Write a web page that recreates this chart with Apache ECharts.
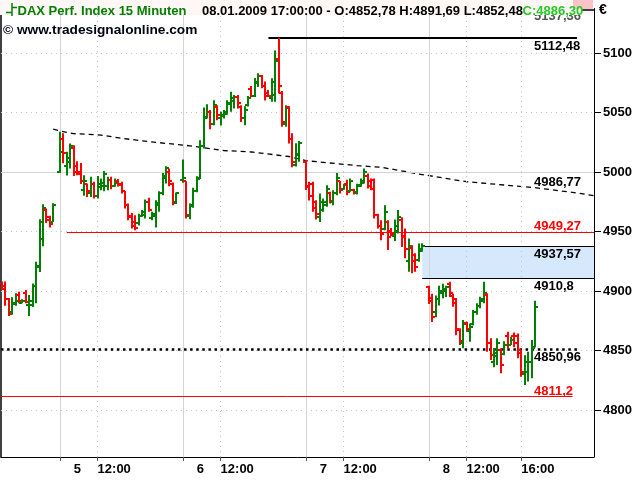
<!DOCTYPE html>
<html>
<head>
<meta charset="utf-8">
<style>html,body{margin:0;padding:0;background:#fff}#c{width:640px;height:480px}</style>
<script src="https://cdn.jsdelivr.net/npm/echarts/dist/echarts.min.js"></script>
</head>
<body>
<div id="c"></div>
<script>
// ================= DATA =================
// 15-minute bar slots: 0 = first bar of 5 Jan, 36 slots per trading day
const barSlot = [
  -17,-16,-15,-14,-13,-12,-11,-10,-9,-8,-7,-6,-5,-4,-3,-2,
  0,1,2,3,4,5,6,7,8,9,10,11,12,13,14,15,16,17,18,19,20,21,22,23,24,25,26,27,28,29,30,31,32,33,34,
  36,37,38,39,40,41,42,43,44,45,46,47,48,49,50,51,52,53,54,55,56,57,58,59,60,61,62,63,64,65,66,67,68,69,70,
  72,73,74,75,76,77,78,79,80,81,82,83,84,85,86,87,88,89,90,91,92,93,94,95,96,97,98,99,100,101,102,103,104,105,106,
  108,109,110,111,112,113,114,115,116,117,118,119,120,121,122,123,124,125,126,127,128,129,130,131,132,133,134,135,136,137,138,139
];
const barOpen = [
  4907,4904,4893,4882,4889,4897,4890,4898,4888,4888,4904,4920,4944,4968,4962,4958,
  5000,5028,5005,5008,5020,5005,5000,4985,4990,4982,4990,4980,4987,4988,4988,4993,4988,4992,4990,4984,4972,4963,4958,4957,4963,4964,4975,4961,4963,4972,4982,4995,5000,4990,4975,
  4993,4992,4963,4972,4984,4995,5022,5045,5050,5040,5055,5045,5047,5049,5057,5060,5063,5055,5045,5056,5070,5064,5075,5081,5072,5066,5062,5065,5095,5066,5040,5055,5028,5006,5014,
  5008,4988,4990,4975,4962,4968,4972,4982,4975,4982,4992,4986,4990,4984,4985,4983,4988,4991,4997,4992,4993,4964,4955,4952,4958,4950,4946,4950,4960,4946,4925,4936,4930,4926,4934,
  4903,4894,4882,4893,4898,4900,4906,4896,4893,4867,4856,4873,4866,4872,4882,4887,4892,4897,4856,4840,4845,4850,4847,4862,4855,4862,4862,4850,4830,4832,4840,4852.78
];
const barHigh = [
  4908,4908,4894,4894.7,4898,4899.4,4893,4900.8,4896.6,4906.2,4924.6,4960.3,4972.8,4969.4,4963.2,4973.7,
  5033.7,5032.6,5016.9,5024,5022.5,5009,5007.6,4997.3,4990.3,4995.9,4991.7,4996.7,4994.5,5000.9,4995.9,4995.9,4994.5,4994,4991.7,4984.1,4973.6,4965.6,4963.7,4965,4968,4976.9,4978.3,4966.5,4976.3,4983.9,4999.2,5004.9,5003,4991.2,4982.8,
  5010.5,4992.3,4973.6,4986.7,4996.5,5026.7,5054.2,5057,5052,5060.3,5056,5050.5,5052,5060.3,5067.5,5064.6,5064.6,5056,5055.3,5063.9,5072.3,5079,5083,5081.5,5076,5068.9,5078.7,5102,5112.48,5068,5056.1,5055.3,5032.5,5024.2,5026,
  5010,4991.7,4991.7,4976.3,4982,4977.8,4988.9,4983.3,4984.7,4999.2,4992.5,4990,4993.4,4994.5,4986,4990,4994.5,5003,4998.8,4994.5,4994.5,4965,4959.5,4972,4959.5,4953,4960,4968,4962,4952.6,4944.2,4938.5,4931.6,4940,4940.2,
  4904.5,4897.6,4896.2,4904.5,4906,4904.5,4907.7,4897.6,4894,4868.6,4875.6,4874.2,4872.7,4884,4889.6,4895.1,4907.7,4898,4860.2,4852,4860.2,4851.9,4857.7,4865.7,4861.6,4865.2,4864.3,4850.3,4846,4849,4858.8,4891.69
];
const barLow = [
  4901.5,4887.5,4879,4880,4887.5,4889.6,4889.6,4889.6,4879,4886.6,4889.6,4916,4937.5,4957.2,4953.4,4958,
  4999.2,5007.4,4997.1,5003,4996.7,4997.3,4989.8,4980,4979,4979,4977.8,4977.8,4984.7,4983.9,4984.7,4985.5,4987.5,4987.7,4982,4969.4,4959.5,4952.6,4951,4955,4962.3,4961,4966.5,4959.5,4953.4,4966.5,4980.5,4990.3,4988,4972.1,4973,
  4991,4961,4960.3,4970,4983,4994,5019.7,5045,5036,5039.3,5043.5,5039,5045,5048,5050.6,5053.4,5053.4,5042,5039.3,5055,5062.8,5063,5071.4,5070.3,5060,5063.3,5059,5059,5066,5038,5038,5024,5004,5004.5,5008.5,
  4984.8,4976,4966.5,4960.1,4958,4966.5,4970.7,4973.6,4972.1,4980.5,4982,4985,4980.5,4983.3,4981,4981,4987.5,4990.3,4986.1,4984.7,4961,4952.6,4942.7,4951,4934.4,4946,4942,4948.4,4937,4927.4,4916.2,4914.8,4916.2,4924.5,4933,
  4889,4874,4878,4887.8,4893.8,4895,4895,4886.7,4862.9,4854.6,4851.8,4865.8,4857.3,4871,4880,4885.4,4889.6,4849,4842,4836,4837.8,4830.9,4846,4851.7,4854.6,4852.7,4843.4,4828,4821,4824,4826.6,4852.48
];
const barClose = [
  4902,4893,4881,4890,4892,4892,4892,4891,4892,4904,4921,4958,4970,4960,4956,4972,
  5017,5016,5012,5022,5000,4998,4992,4992,4984,4990,4980,4990,4991,4998,4993,4988,4991,4989,4984,4972,4962,4955,4953,4963,4966,4975,4968,4965,4974,4982,4997,5003,4992,4974,4982,
  4995,4964,4971,4984,4994,5022,5046,5050,5040,5056,5048,5048,5050,5058,5062,5063,5058,5045,5052,5062,5064,5076,5081,5072,5064,5064,5076,5093,5072,5042,5054,5028,5008,5015,5024,
  4987,4980,4970,4965,4975,4975,4986,4976,4982,4995,4985,4989,4983,4992,4982,4989,4992,5000,4988,4986,4964,4955,4948,4966,4945,4948,4955,4962,4945,4935,4938,4925,4920,4935,4938,
  4892,4878,4893,4900,4902,4903,4898,4890,4868,4858,4872,4868,4870,4882,4887,4893,4898,4856,4846,4848,4856,4838,4855,4855,4859,4856,4848,4832,4840,4840,4852,4886.30
];
// dashed moving average (slot, value)
const maSlot  = [-2, 0, 4, 12, 18, 26, 38, 48, 56, 67, 72, 87, 94, 105, 119, 139, 152, 156.3];
const maValue = [5036, 5034.5, 5032.2, 5031, 5028.3, 5025.5, 5022, 5018, 5016.8, 5013, 5009.5, 5005.3, 5004, 4998.3, 4991.8, 4986.8, 4982.1, 4980];
// horizontal levels: value, from slot, to slot
const levelValue = [5112.48, 4949.27, 4937.57, 4910.8, 4850.96, 4811.2];
const levelFrom  = [61, 2, 106, 106, -17.27, -17.27];
const levelTo    = [151.3, 156.29, 156.29, 156.29, 151.3, 150];
// zone between two levels
const zoneFrom = 106, zoneTop = 4937.57, zoneBottom = 4910.8;
// value labels (placed at last bar slot)
const labelSlot = 139;
const labelValue = [5137.36, 5112.48, 4986.77, 4949.27, 4937.57, 4910.8, 4850.96, 4811.2];
// axes
const yTicks = [4800, 4850, 4900, 4950, 5000, 5050, 5100];
const xTickSlots = [0, 11, 36, 47, 72, 83, 108, 119, 135];
const xLabelSlots = [4, 11, 40, 47, 76, 83, 112, 119, 135];
const xLabelText = ['5', '12:00', '6', '12:00', '7', '12:00', '8', '12:00', '16:00'];
const daySlots = [0, 36, 72, 108];
const hourSlots = [11, 47, 83, 119, 135];
const hGrid = [4800, 4850, 4900, 4950, 5050, 5100];
const hGridSolid = [5000];
// header
const title = 'DAX Perf. Index 15 Minuten';
const quote = '08.01.2009 17:00:00 - O:4852,78 H:4891,69 L:4852,48';
const lastClose = 'C:4886,30';
const credit = '\u00a9 www.tradesignalonline.com';

// ================= CHART =================
const X_MIN = -17.27, X_MAX = 156.29, Y_MIN = 4760.5, Y_MAX = 5137.36;
const UP = '#008000', DOWN = '#ff0000';
const AXFONT = '"Liberation Sans",Arial,sans-serif';
const HFONT = '"Liberation Sans",Arial,sans-serif';
const fmt = v => String(v).replace('.', ',');

const chart = echarts.init(document.getElementById('c'), null, {renderer: 'canvas', width: 640, height: 480});

const ohlc = barSlot.map((t, i) => [t, barOpen[i], barHigh[i], barLow[i], barClose[i]]);
const ma = maSlot.map((t, i) => [t, maValue[i]]);

const gridLines = [];
hGrid.forEach(v => gridLines.push({yAxis: v, lineStyle: {color: '#c4c4c4', width: 1, type: [1, 4]}}));
hGridSolid.forEach(v => gridLines.push({yAxis: v, lineStyle: {color: '#d4d4d4', width: 1, type: 'solid'}}));
daySlots.forEach(t => gridLines.push({xAxis: t, lineStyle: {color: '#d4d4d4', width: 1, type: 'solid'}}));
hourSlots.forEach(t => gridLines.push({xAxis: t, lineStyle: {color: '#c4c4c4', width: 1, type: [1, 4]}}));

const levelStyles = [
  {color: '#000', width: 2, type: 'solid'},
  {color: '#ff0000', width: 1, type: 'solid'},
  {color: '#000', width: 1, type: 'solid'},
  {color: '#000', width: 1, type: 'solid'},
  {color: '#000', width: 2.5, type: [2.5, 3.6]},
  {color: '#ff0000', width: 1, type: 'solid'}
];
const levelLines = levelValue.map((v, i) => [
  {coord: [levelFrom[i], v], lineStyle: levelStyles[i]},
  {coord: [levelTo[i], v]}
]);

// label placement: 1 = below the value, -1 = above
const labelPlace = [1, 1, -1, -1, 1, 1, 1, -1];
const labelColor = ['#555', '#000', '#000', '#ff0000', '#000', '#000', '#000', '#ff0000'];
const labelData = labelValue.map(v => [labelSlot, v]);
const AXLAB = {color: '#000', fontWeight: 'bold', fontSize: 13, fontFamily: AXFONT};

chart.setOption({
  animation: false,
  grid: {left: 1, right: 46, top: 8.5, bottom: 23, containLabel: false, outerBoundsMode: 'none'},
  xAxis: {
    type: 'value', min: X_MIN, max: X_MAX,
    splitLine: {show: false},
    axisLine: {show: true, onZero: false, lineStyle: {color: '#000', width: 1}},
    axisTick: {show: true, customValues: xTickSlots, length: 4, lineStyle: {color: '#555'}},
    axisLabel: Object.assign({
      customValues: xLabelSlots, align: 'left', margin: 6,
      formatter: v => xLabelText[xLabelSlots.indexOf(v)]
    }, AXLAB)
  },
  yAxis: [{
    type: 'value', position: 'right', min: Y_MIN, max: Y_MAX,
    splitLine: {show: false},
    axisLine: {show: true, onZero: false, lineStyle: {color: '#000', width: 1}},
    axisTick: {show: true, customValues: yTicks, length: 7, lineStyle: {color: '#000'}},
    axisLabel: Object.assign({customValues: yTicks, margin: 9, formatter: v => String(v)}, AXLAB)
  }, {
    type: 'value', position: 'left', min: Y_MIN, max: Y_MAX,
    splitLine: {show: false}, axisTick: {show: false}, axisLabel: {show: false},
    axisLine: {show: true, onZero: false, lineStyle: {color: '#000', width: 1.5}}
  }],
  series: [
    {
      type: 'line', data: [[X_MIN, Y_MIN]], symbol: 'none', silent: true, z: 1,
      lineStyle: {opacity: 0},
      markLine: {silent: true, symbol: ['none', 'none'], label: {show: false}, animation: false, data: gridLines},
      markArea: {silent: true, animation: false, data: [[
        {coord: [zoneFrom, zoneTop], itemStyle: {color: '#d6e8fb'}},
        {coord: [X_MAX, zoneBottom]}
      ]]}
    },
    {
      type: 'line', data: [[X_MIN, Y_MIN]], symbol: 'none', silent: true, z: 3,
      lineStyle: {opacity: 0},
      markLine: {silent: true, symbol: ['none', 'none'], label: {show: false}, animation: false, data: levelLines}
    },
    {
      type: 'line', data: ma, symbol: 'none', silent: true, z: 4,
      lineStyle: {color: '#000', width: 1.3, type: [5, 4]}
    },
    {
      type: 'custom', data: ohlc, z: 5, clip: true,
      encode: {x: 0, y: [1, 2, 3, 4]},
      renderItem: (params, api) => {
        const t = api.value(0), o = api.value(1), h = api.value(2), l = api.value(3), c = api.value(4);
        const ph = api.coord([t, h]), pl = api.coord([t, l]), po = api.coord([t, o]), pc = api.coord([t, c]);
        const x = Math.round(ph[0]);
        const col = c >= o ? UP : DOWN;
        const st = {stroke: col, lineWidth: 2};
        const yo = Math.round(po[1]), yc = Math.round(pc[1]);
        return {type: 'group', children: [
          {type: 'line', shape: {x1: x, y1: ph[1], x2: x, y2: pl[1]}, style: st},
          {type: 'line', shape: {x1: x - 3, y1: yo, x2: x, y2: yo}, style: st},
          {type: 'line', shape: {x1: x, y1: yc, x2: x + 3, y2: yc}, style: st}
        ]};
      }
    },
    {
      type: 'custom', data: labelData, z: 6, clip: false, silent: true,
      encode: {x: 0, y: 1},
      renderItem: (params, api) => {
        const i = params.dataIndex;
        const p = api.coord([api.value(0), api.value(1)]);
        const below = labelPlace[i] > 0;
        return {type: 'text', x: Math.round(p[0]) - 1, y: below ? p[1] + 1.5 : p[1] + 1,
          style: {text: fmt(labelValue[i]), fill: labelColor[i], font: 'bold 13px ' + AXFONT,
            align: 'left', verticalAlign: below ? 'top' : 'bottom'}};
      }
    }
  ],
  graphic: [
    {type: 'rect', z: 100, shape: {x: 0, y: 0, width: 593, height: 15}, style: {fill: '#fff6f6'}},
    {type: 'rect', z: 101, shape: {x: 573, y: 0, width: 20, height: 9}, style: {fill: '#f8c4c6'}},
    {type: 'line', z: 101, shape: {x1: 582, y1: 10, x2: 594, y2: 10}, style: {stroke: '#000', lineWidth: 1.5}},
    {type: 'line', z: 102, shape: {x1: 12, y1: 3, x2: 12, y2: 16}, style: {stroke: UP, lineWidth: 1.5}},
    {type: 'line', z: 102, shape: {x1: 6, y1: 12.5, x2: 12, y2: 12.5}, style: {stroke: UP, lineWidth: 1.5}},
    {type: 'line', z: 102, shape: {x1: 12, y1: 7.5, x2: 17, y2: 7.5}, style: {stroke: UP, lineWidth: 1.5}},
    {type: 'text', z: 102, x: 17.5, y: 11.5, style: {text: title, fill: UP, font: 'bold 13px ' + HFONT, verticalAlign: 'middle'}},
    {type: 'text', z: 102, x: 202, y: 11.5, style: {text: quote, fill: '#000', font: 'bold 13px ' + HFONT, verticalAlign: 'middle'}},
    {type: 'text', z: 102, x: 522.5, y: 11.5, style: {text: lastClose, fill: '#22cc22', font: 'bold 13px ' + HFONT, verticalAlign: 'middle'}},
    {type: 'text', z: 102, x: 599, y: 10.5, style: {text: '\u20ac', fill: '#000', font: 'bold 14px ' + HFONT, verticalAlign: 'middle'}},
    {type: 'text', z: 102, x: 3, y: 30.5, style: {text: credit, fill: '#000010', font: 'bold 13.7px ' + HFONT, verticalAlign: 'middle'}}
  ]
});
</script>
</body>
</html>
